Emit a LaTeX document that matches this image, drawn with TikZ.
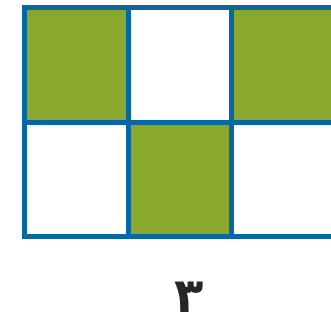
\documentclass[tikz,border=0pt]{standalone}
\usepackage{fontspec}
\newfontfamily\arabicfont[Script=Arabic]{DejaVu Sans}
\TeXXeTstate=1
\definecolor{gridblue}{RGB}{8,102,160}
\definecolor{cellgreen}{RGB}{138,167,46}
\tikzset{
  cell/.style={fill=cellgreen, draw=none},
  gridline/.style={draw=gridblue, line width=5pt}
}
\begin{document}
\begin{tikzpicture}[x=1pt, y=1pt]
\useasboundingbox (0,0) rectangle (331,320);
\clip (0,0) rectangle (331,320);
% green cells
\fill[cell] (24.5,312.5) rectangle (128,197.5);
\fill[cell] (231,312.5) rectangle (334.5,197.5);
\fill[cell] (128,197.5) rectangle (231,83.5);
% grid
\foreach \x in {24.5,128,231,334.5}
  \draw[gridline] (\x,312.5) -- (\x,83.5);
\foreach \y in {312.5,197.5,83.5}
  \draw[gridline] (22,\y) -- (337,\y);
% label
\node[anchor=base, inner sep=0pt, text depth=0pt, font=\fontsize{48}{52}\selectfont\bfseries, text=black!85] (num) at (189,7) {\arabicfont\beginR ۳\endR};
\end{tikzpicture}
\end{document}
